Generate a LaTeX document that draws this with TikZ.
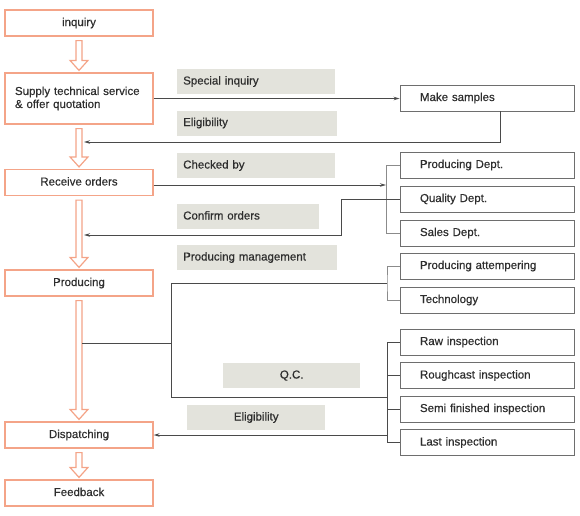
\documentclass[tikz,border=0pt]{standalone}
\usepackage{fontspec}
\setmainfont{Liberation Sans}[FakeBold=0.5]
\usetikzlibrary{positioning,arrows.meta,calc}

\definecolor{flowred}{HTML}{F4A488}
\definecolor{linegray}{HTML}{4A4A4A}
\definecolor{boxgray}{HTML}{6E6E6E}
\definecolor{tagfill}{HTML}{E3E3DC}
\definecolor{textgray}{HTML}{2E2E2E}

% hollow block arrow from node #1 down to node #2
\newcommand\bigarrow[2]{%
  \draw[flowred, line width=1.2pt, fill=white]
    let \p1=(#1.south), \p2=(#2.north) in
    (\x1-3pt,\y1-4pt) -- (\x1-3pt,\y2+12pt) -- (\x1-9pt,\y2+12pt) -- (\x1,\y2+2pt)
    -- (\x1+9pt,\y2+12pt) -- (\x1+3pt,\y2+12pt) -- (\x1+3pt,\y1-4pt) -- cycle;}

\begin{document}
\begin{tikzpicture}[x=1pt, y=-1pt,
    font=\fontsize{11.5}{13}\selectfont, text=textgray,
    flow/.style={draw=flowred, line width=1.2pt, minimum width=148pt,
      minimum height=26pt, inner sep=0pt, text height=8.5pt, text depth=2.5pt},
    dept/.style={draw=boxgray, line width=0.9pt, minimum height=26pt,
      text width=134pt, inner xsep=20pt, inner ysep=0pt, align=left,
      text height=8.5pt, text depth=2.5pt},
    tag/.style={fill=tagfill, anchor=west, minimum height=25pt, inner ysep=0pt,
      inner xsep=6pt, text width=#1, align=left, text height=8.5pt, text depth=2.5pt},
    link/.style={draw=linegray, line width=1pt},
    thin link/.style={draw=boxgray!80, line width=0.6pt},
    >={Stealth[length=6pt,width=3.5pt]}]
  \useasboundingbox (0,0) rectangle (580,515);

  % main flow
  \node[flow] (inq) at (79,23) {inquiry};
  \node[draw=flowred, line width=1.2pt, minimum width=148pt, minimum height=51pt,
    text width=128pt, inner xsep=10pt, inner ysep=0pt, align=left]
    (sup) at (79,98.5) {Supply technical service\\\& offer quotation};
  \node[flow] (rec) at (79,182.5) {Receive orders};
  \node[flow] (prod) at (79,283) {Producing};
  \node[flow] (disp) at (79,435) {Dispatching};
  \node[flow] (feed) at (79,493) {Feedback};

  \bigarrow{inq}{sup}
  \bigarrow{sup}{rec}
  \bigarrow{rec}{prod}
  \bigarrow{prod}{disp}
  \bigarrow{disp}{feed}

  % labels on the links
  \node[tag=146pt] (sinq) at (177,81.5) {Special inquiry};
  \node[tag=148pt] (elig1) at (177,123) {Eligibility};
  \node[tag=146pt] (chk) at (177,165.5) {Checked by};
  \node[tag=130pt] (conf) at (177,216.5) {Confirm orders};
  \node[tag=148pt] (pmgt) at (177,257.5) {Producing management};
  \node[tag=125pt, align=center] (qc) at (223,375.5) {Q.C.};
  \node[tag=126pt, align=center] (elig2) at (187,417.5) {Eligibility};

  % departments
  \node[dept] (samp) at (487,98) {Make samples};
  \node[dept] (pdep) at (487,165) {Producing Dept.};
  \node[dept] (qdep) at (487,199) {Quality Dept.};
  \node[dept] (sdep) at (487,233) {Sales Dept.};
  \node[dept] (patt) at (487,266) {Producing attempering};
  \node[dept] (tech) at (487,300) {Technology};
  \node[dept] (raw) at (487,342) {Raw inspection};
  \node[dept] (rough) at (487,375.5) {Roughcast inspection};
  \node[dept] (semi) at (487,409) {Semi finished inspection};
  \node[dept] (last) at (487,442.5) {Last inspection};

  \coordinate (back1) at (84,142);
  \coordinate (back2) at (84,235);
  \coordinate (br1) at (386,185);
  \coordinate (tap) at (82,343);
  \coordinate (split) at (171,343);
  \coordinate (br2) at (387,283);
  \coordinate (br3) at (387,397);

  % samples
  \draw[link,->] (sup.east) -- (sup.east -| samp.west);
  \draw[link,->] ([xshift=13pt]samp.south) |- (back1);

  % orders
  \draw[link,->] (rec.east |- br1) -- (br1);
  \draw[thin link] (pdep.west) -- (pdep.west -| br1) -- (sdep.west -| br1) -- (sdep.west);
  \draw[link,->] (qdep.west) -- ++(-58,0) |- (back2);

  % production
  \draw[link] (tap) -- (split);
  \draw[link] (split) -- (split |- br2) -- (br2);
  \draw[thin link] (patt.west) -| (br2) |- (tech.west);
  \draw[link] (split) -- (split |- br3) -- (br3);
  \draw[link] (raw.west) -- (raw.west -| br3) -- (last.west -| br3) -- (last.west);
  \foreach \n in {rough,semi}
    \draw[link] (\n.west) -- (\n.west -| br3);
  \draw[link,->] (disp.east -| br3) -- (disp.east);
\end{tikzpicture}
\end{document}
